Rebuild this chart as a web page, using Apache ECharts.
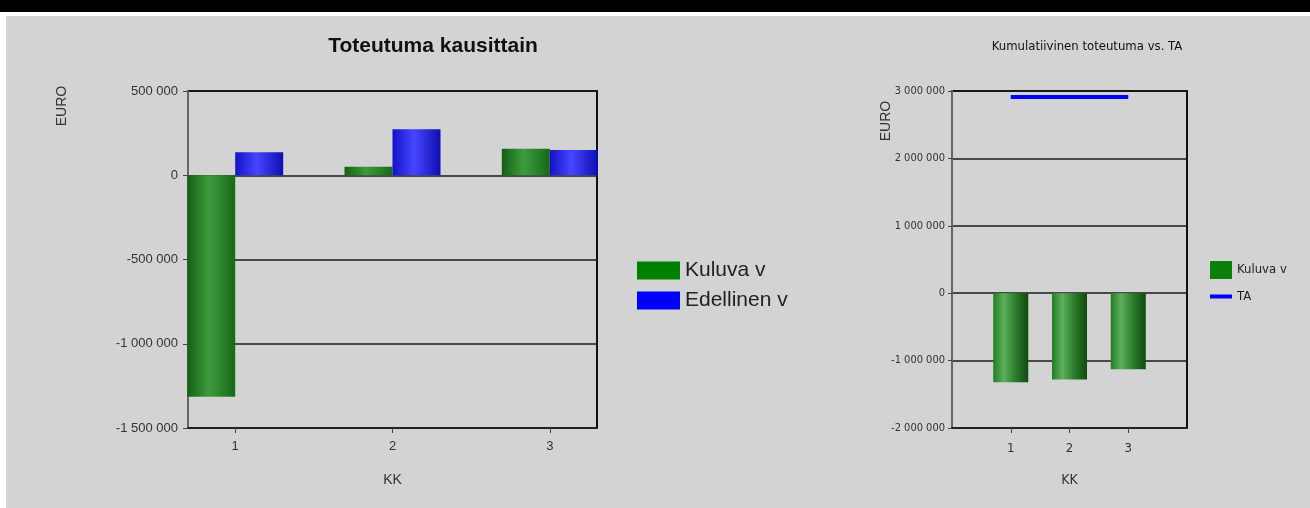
<!DOCTYPE html>
<html>
<head>
<meta charset="utf-8">
<script src="https://cdn.jsdelivr.net/npm/echarts@6/dist/echarts.min.js"></script>
<style>
  html, body { margin: 0; padding: 0; background: #d3d3d3; }
  #topbar { position: absolute; left: 0; top: 0; width: 1310px; height: 12px; background: #000; }
  #topgap { position: absolute; left: 0; top: 12px; width: 1310px; height: 4px; background: #fff; }
  #side { position: absolute; left: 0; top: 12px; width: 6px; height: 496px; background: #fff; }
  #main { position: absolute; left: 0; top: 0; width: 1310px; height: 508px; }
</style>
</head>
<body>
<div id="topbar"></div>
<div id="topgap"></div>
<div id="side"></div>
<div id="main"></div>
<script>
// data
const categories = ['1', '2', '3'];
const kuluvaKausi = [-1315000, 50000, 158000];
const edellinenKausi = [137000, 273000, 150000];
const kuluvaKum = [-1320000, -1280000, -1130000];
const taKum = [2910000, 2910000, 2910000];

const xPos = categories.map(Number);
const fontL = 'Liberation Sans, Arial, sans-serif';
const fontR = 'DejaVu Sans Condensed, Liberation Sans, sans-serif';

function fmt(v) {
  return String(v).replace(/\B(?=(\d{3})+(?!\d))/g, ' ');
}

const greenGrad = {
  type: 'linear', x: 0, y: 0, x2: 1, y2: 0,
  colorStops: [
    { offset: 0, color: '#145f14' },
    { offset: 0.45, color: '#3d9c3d' },
    { offset: 1, color: '#176a17' }
  ]
};
const blueGrad = {
  type: 'linear', x: 0, y: 0, x2: 1, y2: 0,
  colorStops: [
    { offset: 0, color: '#1212c8' },
    { offset: 0.45, color: '#4646ff' },
    { offset: 1, color: '#0e0eb4' }
  ]
};
const greenGradR = {
  type: 'linear', x: 0, y: 0, x2: 1, y2: 0,
  colorStops: [
    { offset: 0, color: '#237d23' },
    { offset: 0.3, color: '#5cb05c' },
    { offset: 0.65, color: '#2a7a2a' },
    { offset: 1, color: '#0f4a0f' }
  ]
};

const myChart = echarts.init(document.getElementById('main'));

const option = {
  backgroundColor: 'transparent',
  animation: false,
  title: [
    {
      text: 'Toteutuma kausittain',
      left: 433, top: 36, padding: 0, textAlign: 'center',
      textStyle: { fontFamily: fontL, fontSize: 21, fontWeight: 'bold', color: '#111' }
    },
    {
      text: 'Kumulatiivinen toteutuma vs. TA',
      left: 1087, top: 40, padding: 0, textAlign: 'center',
      textStyle: { fontFamily: fontR, fontSize: 13, fontWeight: 'normal', color: '#111' }
    }
  ],
  legend: [
    {
      left: 637, top: 260, orient: 'vertical', padding: 0, icon: 'rect',
      itemWidth: 43, itemHeight: 18, itemGap: 9, selectedMode: false,
      data: [
        { name: 'Kuluva v', itemStyle: { color: '#008000' } },
        { name: 'Edellinen v', itemStyle: { color: '#0000ff' } }
      ],
      textStyle: { fontFamily: fontL, fontSize: 21, color: '#222' }
    },
    {
      left: 1210, top: 261, orient: 'vertical', padding: 0, icon: 'rect',
      itemWidth: 22, itemHeight: 18, selectedMode: false,
      data: [{ name: 'Kuluva v', itemStyle: { color: '#0a7f0a' } }],
      textStyle: { fontFamily: fontR, fontSize: 13, color: '#222' }
    },
    {
      left: 1210, top: 290, orient: 'vertical', padding: 0,
      itemWidth: 22, itemHeight: 4, selectedMode: false,
      data: [{ name: 'TA', icon: 'rect', itemStyle: { color: '#0000ff' } }],
      textStyle: { fontFamily: fontR, fontSize: 13, color: '#222' }
    }
  ],
  grid: [
    { left: 188, right: 713, top: 91, bottom: 80, show: true, borderColor: '#111', borderWidth: 2 },
    { left: 952, right: 123, top: 91, bottom: 80, show: true, borderColor: '#111', borderWidth: 2 }
  ],
  xAxis: [
    {
      gridIndex: 0, type: 'value', min: 0.7, max: 3.3,
      axisLine: { show: true, onZero: false, lineStyle: { color: '#222', width: 2 } },
      axisTick: { show: true, customValues: xPos, length: 5, lineStyle: { color: '#444' } },
      axisLabel: { customValues: xPos, formatter: v => categories[Math.round(v) - 1], margin: 12,
        fontFamily: fontL, fontSize: 13, color: '#333' },
      splitLine: { show: false },
      name: 'KK', nameLocation: 'middle', nameGap: 45,
      nameTextStyle: { fontFamily: fontL, fontSize: 14, color: '#333' }
    },
    {
      gridIndex: 1, type: 'value', min: 0, max: 4,
      axisLine: { show: true, onZero: false, lineStyle: { color: '#222', width: 2 } },
      axisTick: { show: true, customValues: xPos, length: 5, lineStyle: { color: '#444' } },
      axisLabel: { customValues: xPos, formatter: v => categories[Math.round(v) - 1], margin: 14,
        fontFamily: fontR, fontSize: 13, color: '#333' },
      splitLine: { show: false },
      name: 'KK', nameLocation: 'middle', nameGap: 45,
      nameTextStyle: { fontFamily: fontR, fontSize: 14, color: '#333' }
    }
  ],
  yAxis: [
    {
      gridIndex: 0, type: 'value', min: -1500000, max: 500000, interval: 500000,
      axisLine: { show: true, lineStyle: { color: '#666', width: 2 } },
      axisTick: { show: true, length: 5, lineStyle: { color: '#444' } },
      axisLabel: { formatter: fmt, margin: 10, fontFamily: fontL, fontSize: 13, color: '#333' },
      splitLine: { lineStyle: { color: '#1a1a1a', width: 1.5 } }
    },
    {
      gridIndex: 1, type: 'value', min: -2000000, max: 3000000, interval: 1000000,
      axisLine: { show: true, lineStyle: { color: '#666', width: 2 } },
      axisTick: { show: true, length: 4, lineStyle: { color: '#444' } },
      axisLabel: { formatter: fmt, margin: 7, fontFamily: fontR, fontSize: 11, color: '#333' },
      splitLine: { lineStyle: { color: '#1a1a1a', width: 1.5 } }
    }
  ],
  graphic: [
    { type: 'text', x: 62, y: 106, rotation: Math.PI / 2,
      style: { text: 'EURO', font: '14px ' + fontL, fill: '#333', align: 'center', verticalAlign: 'middle' } },
    { type: 'text', x: 886, y: 121, rotation: Math.PI / 2,
      style: { text: 'EURO', font: '14px ' + fontL, fill: '#333', align: 'center', verticalAlign: 'middle' } }
  ],
  series: [
    {
      name: 'Kuluva v', type: 'bar', xAxisIndex: 0, yAxisIndex: 0,
      barWidth: 48, barGap: '0%',
      data: xPos.map((x, i) => [x, kuluvaKausi[i]]),
      itemStyle: { color: greenGrad }
    },
    {
      name: 'Edellinen v', type: 'bar', xAxisIndex: 0, yAxisIndex: 0,
      barWidth: 48, barGap: '0%',
      data: xPos.map((x, i) => [x, edellinenKausi[i]]),
      itemStyle: { color: blueGrad }
    },
    {
      name: 'Kuluva v', type: 'bar', xAxisIndex: 1, yAxisIndex: 1,
      barWidth: 35,
      data: xPos.map((x, i) => [x, kuluvaKum[i]]),
      itemStyle: { color: greenGradR }
    },
    {
      name: 'TA', type: 'line', xAxisIndex: 1, yAxisIndex: 1,
      symbol: 'none',
      data: xPos.map((x, i) => [x, taKum[i]]),
      lineStyle: { color: '#0000ff', width: 4 },
      itemStyle: { color: '#0000ff' }
    }
  ]
};

option && myChart.setOption(option);
</script>
</body>
</html>
